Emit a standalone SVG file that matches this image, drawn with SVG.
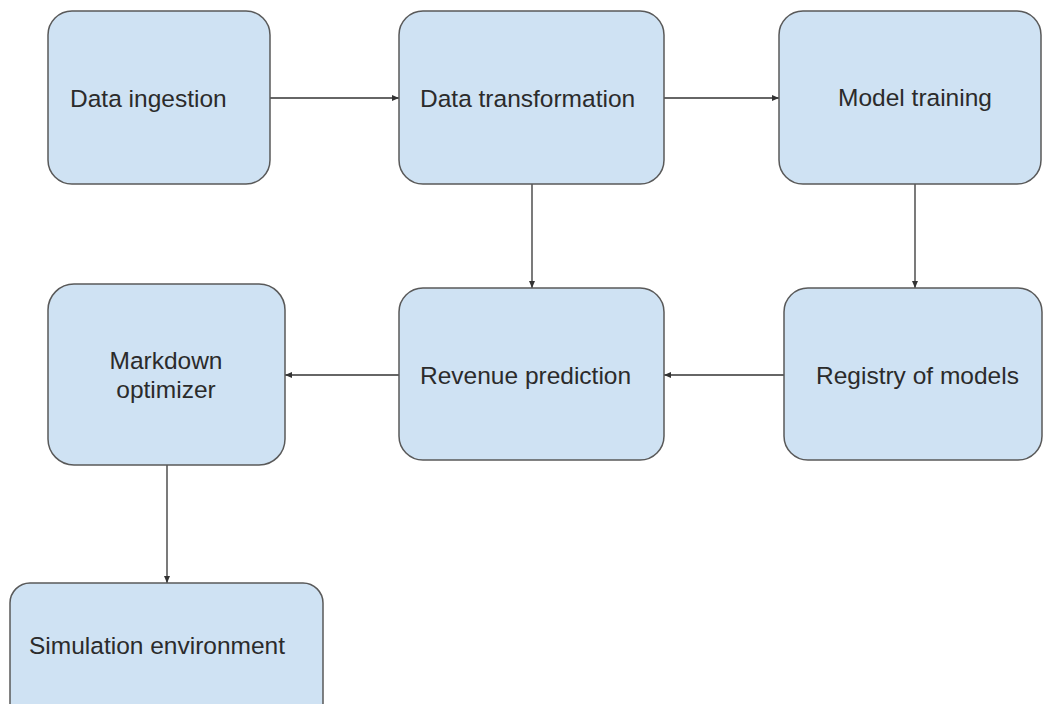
<svg xmlns="http://www.w3.org/2000/svg" width="1043" height="704" viewBox="0 0 1043 704">
  <style>
    .box { fill: #cfe2f3; stroke: #595959; stroke-width: 1.5; }
    .label { font-family: "Liberation Sans", Arial, sans-serif; font-size: 24.5px; fill: #2b2b2b; }
    .mid { text-anchor: middle; }
    .edge { fill: none; stroke: #333333; stroke-width: 1.3; marker-end: url(#arrow); }
  </style>
  <defs>
    <marker id="arrow" markerWidth="8" markerHeight="8" refX="7" refY="4" orient="auto" markerUnits="userSpaceOnUse">
      <path d="M0,1 L7,4 L0,7 z" fill="#333333"/>
    </marker>
  </defs>
  <rect width="1043" height="704" fill="#ffffff"/>

  <g id="connectors">
    <path class="edge" d="M270,98 L399,98"/>
    <path class="edge" d="M664,98 L779,98"/>
    <path class="edge" d="M532,184 L532,288"/>
    <path class="edge" d="M915,184 L915,288"/>
    <path class="edge" d="M784,375 L664,375"/>
    <path class="edge" d="M399,375 L285,375"/>
    <path class="edge" d="M167,465 L167,583"/>
  </g>

  <g id="data-ingestion">
    <rect class="box" x="48" y="11" width="222" height="173" rx="24"/>
    <text class="label" x="70" y="107">Data ingestion</text>
  </g>
  <g id="data-transformation">
    <rect class="box" x="399" y="11" width="265" height="173" rx="24"/>
    <text class="label" x="420" y="107">Data transformation</text>
  </g>
  <g id="model-training">
    <rect class="box" x="779" y="11" width="262" height="173" rx="24"/>
    <text class="label mid" x="915" y="106">Model training</text>
  </g>
  <g id="markdown-optimizer">
    <rect class="box" x="48" y="284" width="237" height="181" rx="26"/>
    <text class="label mid" x="166" y="369">Markdown</text>
    <text class="label mid" x="166" y="398">optimizer</text>
  </g>
  <g id="revenue-prediction">
    <rect class="box" x="399" y="288" width="265" height="172" rx="24"/>
    <text class="label" x="420" y="384">Revenue prediction</text>
  </g>
  <g id="registry-of-models">
    <rect class="box" x="784" y="288" width="258" height="172" rx="24"/>
    <text class="label" x="816" y="384">Registry of models</text>
  </g>
  <g id="simulation-environment">
    <rect class="box" x="10" y="583" width="313" height="140" rx="20"/>
    <text class="label" x="29" y="654">Simulation environment</text>
  </g>
</svg>
